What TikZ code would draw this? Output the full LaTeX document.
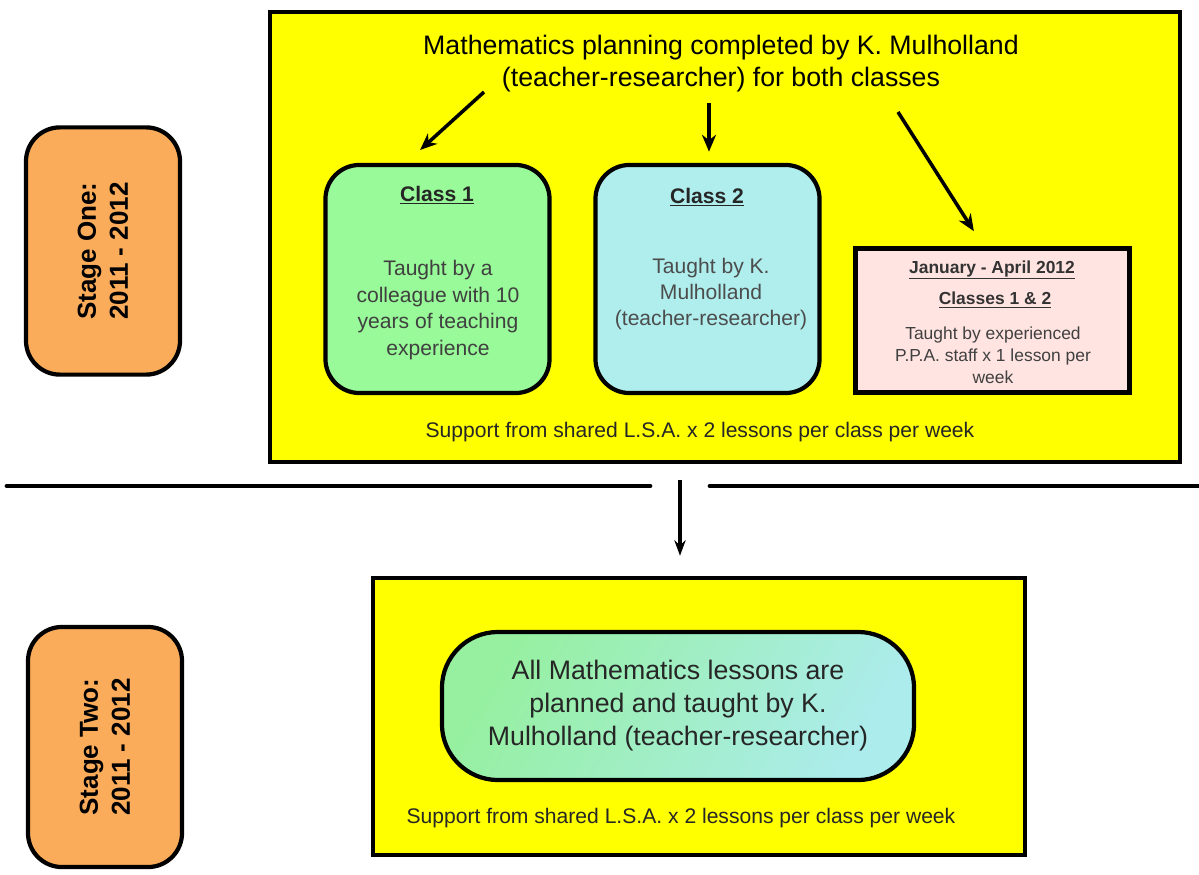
\documentclass[tikz,border=0pt]{standalone}
\usepackage{fontspec}
\setmainfont{Liberation Sans}
\usetikzlibrary{arrows.meta}
\definecolor{stageorange}{RGB}{250,172,90}
\definecolor{panelyellow}{RGB}{255,255,0}
\definecolor{class1green}{RGB}{152,250,152}
\definecolor{class2cyan}{RGB}{176,238,238}
\definecolor{janpink}{RGB}{255,228,225}
\definecolor{ellgreen}{RGB}{150,240,160}
\definecolor{ellcyan}{RGB}{172,236,236}
\begin{document}
\begin{tikzpicture}[x=0.025cm, y=-0.025cm,
    stagebox/.style={rectangle, draw, line width=3pt, fill=stageorange, rounded corners=0.85cm, rotate=90, minimum width=#1, minimum height=3.85cm, align=center, font=\fontsize{18.5}{22.8}\selectfont\bfseries},
    panel/.style={rectangle, draw, line width=3pt, fill=panelyellow},
    classbox/.style={rectangle, draw, line width=3pt, fill=#1, rounded corners=0.85cm, minimum width=5.6cm, minimum height=5.7cm},
    lbl/.style={inner sep=0pt, align=center, text=#1},
    flow/.style={-{Stealth[length=12pt,width=10pt]}, line width=2.5pt},
    divider/.style={line width=3.5pt, line cap=round}
]
    \useasboundingbox (0,0) rectangle (1199,875);

    % Stages
    \node[stagebox=6.18cm] (stage1) at (103,251) {Stage One:\\2011 - 2012};
    \node[stagebox=6cm] (stage2) at (105,747) {Stage Two:\\2011 - 2012};

    % Stage one panel
    \node[panel, minimum width=22.75cm, minimum height=11.25cm] (topbox) at (725,237) {};
    \node[lbl=black, font=\fontsize{19}{22.8}\selectfont] (plan) at (721,64) {Mathematics planning completed by K. Mulholland\\(teacher-researcher) for both classes};

    \node[classbox=class1green] (class1) at (437.5,279) {};
    \node[lbl=black!85, font=\fontsize{15}{18}\selectfont\bfseries] (class1title) at (437,195) {\underline{Class 1}};
    \node[lbl=black!75, font=\fontsize{15}{18.8}\selectfont] (class1text) at (438,310) {Taught by a\\colleague with 10\\years of teaching\\experience};

    \node[classbox=class2cyan] (class2) at (707.5,279) {};
    \node[lbl=black!85, font=\fontsize{15}{18}\selectfont\bfseries] (class2title) at (707,197) {\underline{Class 2}};
    \node[lbl=black!70, font=\fontsize{15}{18.8}\selectfont] (class2text) at (711,294) {Taught by K.\\Mulholland\\(teacher-researcher)};

    \node[rectangle, draw, line width=3.5pt, fill=janpink, minimum width=6.85cm, minimum height=3.6cm] (janbox) at (992.5,320.5) {};
    \node[lbl=black!80, font=\fontsize{12.4}{15}\selectfont\bfseries] (jantitle) at (992,270) {\underline{January - April 2012}};
    \node[lbl=black!80, font=\fontsize{12.4}{15}\selectfont\bfseries] (janclasses) at (995,300) {\underline{Classes 1 \& 2}};
    \node[lbl=black!75, font=\fontsize{12.4}{15.6}\selectfont] (jantext) at (993,355) {Taught by experienced\\P.P.A. staff x 1 lesson per\\week};

    \node[lbl=black!85, font=\fontsize{15}{18}\selectfont] (support1) at (700,432) {Support from shared L.S.A. x 2 lessons per class per week};

    % Planning arrows
    \coordinate (plan1) at (484,92);
    \coordinate (plan2) at (709,103);
    \coordinate (plan3) at (898,112);
    \draw[flow, shorten >=0.48cm] (plan1) -- ([xshift=-0.79cm]class1.north);
    \draw[flow, shorten >=0.28cm] (plan2) -- (class2.north -| plan2);
    \draw[flow, shorten >=0.44cm] (plan3) -- ([xshift=-0.23cm]janbox.north);

    % Stage two panel
    \node[panel, minimum width=16.3cm, minimum height=6.93cm] (bottombox) at (699,716.5) {};
    \node[rectangle, draw, line width=3pt, rounded corners=1.4cm, left color=ellgreen, right color=ellcyan, shading angle=60, minimum width=11.8cm, minimum height=3.7cm, align=center, text=black!85, font=\fontsize{19}{23.5}\selectfont] (allbox) at (678,706) {All Mathematics lessons are\\planned and taught by K.\\Mulholland (teacher-researcher)};
    \node[lbl=black!85, font=\fontsize{15}{18}\selectfont] (support2) at (681,818) {Support from shared L.S.A. x 2 lessons per class per week};

    % Divider and transition
    \coordinate (divleft) at (7,486);
    \coordinate (divgapl) at (650,486);
    \coordinate (divgapr) at (710,486);
    \coordinate (divright) at (1210,486);
    \draw[divider] (divleft) -- (divgapl);
    \draw[divider] (divgapr) -- (divright);
    \coordinate (gapx) at (680,486);
    \draw[-{Stealth[length=11pt,width=8pt]}, line width=2.2pt, shorten <=0.4cm, shorten >=0.5cm] (topbox.south -| gapx) -- (bottombox.north -| gapx);
\end{tikzpicture}
\end{document}
